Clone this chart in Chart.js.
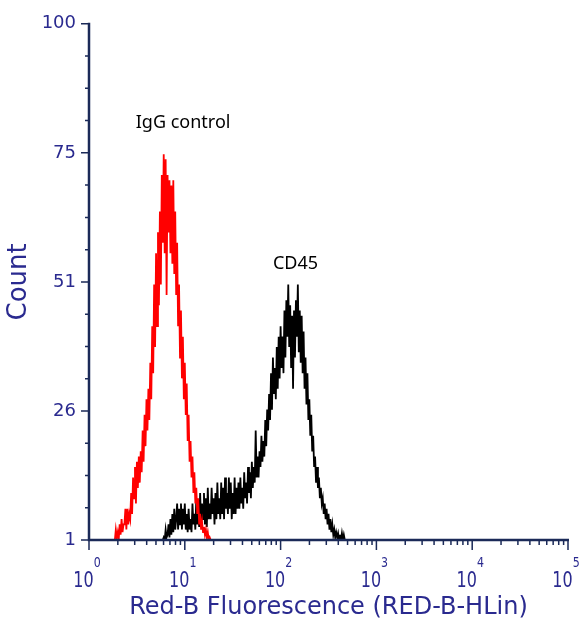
<!DOCTYPE html>
<html>
<head>
<meta charset="utf-8">
<title>CD45 vs IgG control</title>
<script src="https://cdn.jsdelivr.net/npm/chart.js@4.4.1/dist/chart.umd.min.js"></script>
<style>
  html, body { margin: 0; padding: 0; background: #fff; }
  canvas { display: block; }
</style>
</head>
<body>
<canvas id="js-chart-cd45" width="582" height="622"></canvas>
<script>
// Histogram channels, 100 per decade on the log axis
const channelsPerDecade = 100;

// IgG control (red), counts from channel 27 on
const igGStartChannel = 27;
const igGCounts = [
  1, 3, 1.5, 2.5, 1, 4, 2, 5, 2.5, 4,
  4, 7, 3, 7, 4, 6, 5, 10, 6, 13,
  9, 15, 8, 16, 11, 17, 12, 18, 14, 22,
  16, 25, 19, 28, 22, 30, 24, 35, 28, 42,
  33, 50, 38, 56, 42, 60, 46, 64, 50, 71,
  58, 75, 56, 74, 48, 71, 60, 70, 56, 69,
  54, 70, 52, 64, 48, 58, 42, 50, 36, 45,
  32, 40, 28, 35, 25, 31, 20, 25, 16, 20,
  13, 17, 10, 14, 8, 11, 6, 9, 4, 6,
  3, 4.5, 2.5, 3.5, 2, 3, 1.5, 2.5, 1, 1.5, 1];

// CD45 (black), counts from channel 77 on
const cd45StartChannel = 77;
const cd45Counts = [
  1, 1.5, 1, 3, 1.5, 2, 4, 1.5, 5, 2,
  6, 2.5, 7, 3, 5, 8, 3, 7, 4, 8,
  3, 7, 4, 8, 3, 6, 2.5, 7, 3, 5,
  2.5, 8, 4, 6, 3, 9, 4, 7, 3.5, 10,
  4, 8, 5, 10, 4, 9, 3.5, 11, 5, 8,
  5, 11, 6, 9, 4, 10, 5, 12, 6, 9,
  5, 12, 6, 11, 5, 13, 7, 10, 6, 13,
  7, 12, 5, 10, 6, 13, 6, 11, 7, 12,
  7, 13, 8, 11, 7, 14, 9, 12, 8, 15,
  10, 14, 9, 16, 11, 15, 12, 22, 13, 17,
  13, 18, 15, 21, 16, 20, 17, 24, 19, 26,
  22, 29, 24, 33, 26, 36, 29, 34, 28, 38,
  30, 40, 32, 42, 34, 40, 33, 45, 36, 47,
  40, 50, 38, 46, 34, 44, 30, 45, 36, 47,
  40, 50, 37, 45, 35, 44, 33, 41, 30, 36,
  27, 33, 24, 28, 21, 25, 18, 21, 15, 17,
  12, 15, 11, 13, 9, 11, 8, 9, 6, 8,
  5, 7, 4, 6, 3, 5, 2.5, 4, 2, 3,
  1.5, 2.5, 1.5, 2.3, 1, 2, 1, 2.3, 1, 2,
  1, 1];

// Axes
const xTickValues = [1, 10, 100, 1000, 10000, 100000];
const xTickExponents = ['0', '1', '2', '3', '4', '5'];
const yTickValues = [1, 25.75, 50.5, 75.25, 100];
const yTickLabels = ['1', '26', '51', '75', '100'];
const xTitle = 'Red-B Fluorescence (RED-B-HLin)';
const yTitle = 'Count';

// Peak labels
const annotationLabels = ['IgG control', 'CD45'];
const annotationX = [9.6, 143];
const annotationY = [80, 53];

const axisColor = '#1b2a58';
const labelColor = '#2a2a8f';

function toPoints(startChannel, counts) {
  return counts.map((c, i) => ({x: Math.pow(10, (startChannel + i) / channelsPerDecade), y: c}));
}

// Axis lines, tick marks, superscript decade labels and peak labels
const cytometryAxes = {
  id: 'cytometryAxes',
  afterDatasetsDraw(chart) {
    const {ctx, chartArea: area, scales: {x, y}} = chart;
    ctx.save();
    ctx.strokeStyle = axisColor;
    ctx.lineWidth = 1.5;
    ctx.beginPath();
    xTickValues.forEach((v, d) => {
      let px = x.getPixelForValue(v);
      ctx.moveTo(px, area.bottom);
      ctx.lineTo(px, area.bottom + 10);
      if (d < xTickValues.length - 1) {
        for (let m = 2; m <= 9; m++) {
          px = x.getPixelForValue(v * m);
          ctx.moveTo(px, area.bottom);
          ctx.lineTo(px, area.bottom + 5);
        }
      }
    });
    yTickValues.forEach((v, i) => {
      let py = y.getPixelForValue(v);
      ctx.moveTo(area.left, py);
      ctx.lineTo(area.left - 8, py);
      if (i < yTickValues.length - 1) {
        const step = (yTickValues[i + 1] - v) / 4;
        for (let k = 1; k < 4; k++) {
          py = y.getPixelForValue(v + k * step);
          ctx.moveTo(area.left, py);
          ctx.lineTo(area.left - 4, py);
        }
      }
    });
    ctx.stroke();

    ctx.lineWidth = 2.5;
    ctx.beginPath();
    ctx.moveTo(area.left, area.top - 1);
    ctx.lineTo(area.left, area.bottom);
    ctx.lineTo(area.right + 1, area.bottom);
    ctx.stroke();

    // decade labels 10^n, a little stretched like the original
    ctx.fillStyle = labelColor;
    ctx.textBaseline = 'alphabetic';
    ctx.textAlign = 'left';
    xTickValues.forEach((v, i) => {
      const px = x.getPixelForValue(v);
      ctx.font = '16px "DejaVu Sans"';
      const wBase = ctx.measureText('10').width;
      ctx.font = '11px "DejaVu Sans"';
      const wExp = ctx.measureText(xTickExponents[i]).width;
      ctx.save();
      ctx.translate(px - (wBase + wExp) / 2 - 2, area.bottom + 47);
      ctx.scale(1, 1.35);
      ctx.font = '16px "DejaVu Sans"';
      ctx.fillText('10', 0, 0);
      ctx.font = '11px "DejaVu Sans"';
      ctx.fillText(xTickExponents[i], wBase, -20 / 1.35);
      ctx.restore();
    });

    ctx.fillStyle = '#000';
    ctx.textAlign = 'center';
    ctx.font = '18px "Noto Sans"';
    annotationLabels.forEach((t, i) => {
      ctx.fillText(t, x.getPixelForValue(annotationX[i]), y.getPixelForValue(annotationY[i]));
    });
    ctx.restore();
  }
};

new Chart(document.getElementById('js-chart-cd45'), {
  type: 'line',
  data: {
    datasets: [
      {
        label: 'IgG control',
        data: toPoints(igGStartChannel, igGCounts),
        borderColor: '#ff0000',
        borderWidth: 1.8,
        tension: 0,
        pointRadius: 0,
        fill: false
      },
      {
        label: 'CD45',
        data: toPoints(cd45StartChannel, cd45Counts),
        borderColor: '#000000',
        borderWidth: 1.8,
        tension: 0,
        pointRadius: 0,
        fill: false
      }
    ]
  },
  options: {
    responsive: false,
    animation: false,
    layout: {padding: {top: 21, right: 14, left: 0, bottom: 0}},
    plugins: {legend: {display: false}, tooltip: {enabled: false}},
    scales: {
      x: {
        type: 'logarithmic',
        min: 1,
        max: 100000,
        grid: {display: false, drawTicks: false},
        border: {display: false},
        ticks: {display: false},
        afterBuildTicks: (scale) => { scale.ticks = xTickValues.map(v => ({value: v})); },
        afterFit: (scale) => { scale.height = 82; },
        title: {
          display: true,
          text: xTitle,
          color: labelColor,
          font: {family: 'DejaVu Sans', size: 24},
          padding: {top: 0, bottom: 0}
        }
      },
      y: {
        type: 'linear',
        min: 1,
        max: 100,
        grid: {display: false, drawTicks: false},
        border: {display: false},
        afterBuildTicks: (scale) => { scale.ticks = yTickValues.map(v => ({value: v})); },
        afterFit: (scale) => { scale.width = 89; },
        ticks: {
          color: labelColor,
          font: {family: 'DejaVu Sans', size: 18},
          padding: 13,
          callback: (v, i) => yTickLabels[i]
        },
        title: {
          display: true,
          text: yTitle,
          color: labelColor,
          font: {family: 'DejaVu Sans', size: 26},
          padding: {top: 4, bottom: 0}
        }
      }
    }
  },
  plugins: [cytometryAxes]
});
</script>
</body>
</html>
